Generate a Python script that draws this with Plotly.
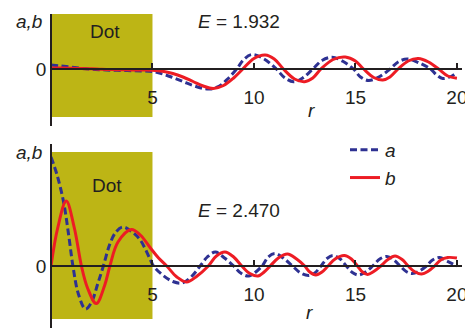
import plotly.graph_objects as go

# visible page is 473x336; the page body adds an 8px margin all round,
# so the figure is sized to fit inside it without scrollbars
W, H = 465, 320
OFF = 8

# upper panel, E = 1.932  (r, amplitude in arb. units)
r_top_a = [0, 0.5, 1, 1.5, 2, 2.5, 3, 3.5, 4, 4.5, 5, 5.5, 6, 6.5, 7, 7.5, 7.85, 8.3, 8.7, 9.15,
           9.5, 9.9, 10.5, 11.1, 11.5, 11.95, 12.4, 12.9, 13.35, 13.85, 14.4, 14.9, 15.25, 15.65,
           16.2, 16.7, 17.1, 17.55, 18.1, 18.7, 19.0, 19.3, 19.7, 20]
a_top = [4, 3, 1.8, 0.6, -0.3, -0.8, -1.2, -1.5, -1.7, -2, -2.5, -5, -8.5, -12.5, -16.5, -19.5, -20, -17, -10, 0,
         9.5, 14.5, 10, 0, -8.5, -12.7, -9, 0, 8.5, 11.7, 7.5, 0, -8, -11.5,
         -7.5, 0, 7, 10, 6.5, 0, -6, -9.5, -7.5, -3.5]
r_top_b = [0, 0.5, 1, 1.5, 2, 2.5, 3, 3.5, 4, 4.5, 5, 5.5, 6, 6.5, 7, 7.5, 8.0, 8.5, 9.0, 9.45,
           10.0, 10.55, 11.0, 11.45, 12.0, 12.5, 12.9, 13.3, 13.9, 14.5, 15.0, 15.4, 15.9, 16.35,
           16.7, 17.1, 17.6, 18.1, 18.6, 19.1, 19.55, 20]
b_top = [1.0, 1.0, 0.8, 0.5, 0.2, -0.3, -0.6, -0.8, -0.9, -1, -1.2, -2.2, -4.5, -8, -12.5, -17, -19.5, -16.5, -9, 0,
         10.5, 14, 10, 0, -10, -12.7, -9, 0, 9.5, 12, 8, 0, -8.5, -11,
         -8, 0, 8, 10.5, 7, 0, -7, -9.3]

# lower panel, E = 2.470
r_bot_a = [0, 0.3, 0.62, 0.87, 1.08, 1.35, 1.7, 2.0, 2.3, 2.58, 2.9, 3.2, 3.54, 4.0, 4.4, 4.9, 5.05,
           5.5, 6.0, 6.45, 6.9, 7.35, 7.7, 8.1, 8.55, 9.0, 9.35, 9.75, 10.4, 10.7, 11.05, 11.5, 11.9,
           12.3, 12.7, 13.0, 13.3, 13.6, 13.9, 14.25, 14.55, 14.85, 15.15, 15.5, 15.85, 16.2, 16.55,
           16.9, 17.2, 17.5, 17.8, 18.15, 18.5, 18.8, 19.15, 19.5, 20]
a_bot = [109, 91, 64, 31, 0, -28, -43, -36, -18, 0, 22, 34, 39, 34, 26, 6, 0,
         -9, -15.5, -17, -11, 0, 9, 14, 8, 0, -7, -10, 0, 9, 12.5, 7, 0,
         -7, -9.5, -7, 0, 7.5, 10.5, 7, 0, -6.5, -9, -6, 0, 7, 9.5,
         6, 0, -5.5, -7.5, -5, 0, 6, 8.5, 5, 0]
r_bot_b = [0, 0.33, 0.75, 1.15, 1.5, 1.8, 2.23, 2.65, 2.9, 3.3, 3.96, 4.4, 4.9, 5.3, 5.7,
           6.2, 6.68, 7.2, 7.75, 8.15, 8.57, 9.0, 9.4, 9.8, 10.2, 10.5, 10.8, 11.2, 11.65, 12.1,
           12.5, 12.75, 13.05, 13.35, 13.65, 14.0, 14.45, 14.8, 15.1, 15.35, 15.6, 15.9, 16.25,
           16.6, 16.95, 17.3, 17.6, 17.9, 18.25, 18.6, 18.9, 19.2, 19.55, 20]
b_bot = [0, 38, 65, 38, 0, -22, -37.6, -19, 0, 24, 36.5, 31, 18, 8, 0,
         -11, -16, -10, 0, 10, 14, 9, 0, -7.5, -10, -6, 0, 8, 12, 7,
         0, -6, -9, -6, 0, 7, 10.5, 7, 0, -6, -8.5, -5.5, 0,
         6.5, 10, 6.5, 0, -5.5, -8, -5, 0, 6, 8.5, 8]

energies = ['1.932', '2.470']
dot_r = [0, 5]
r_ticks = [5, 10, 15, 20]

BLUE = '#2e3192'
RED = '#ed1c24'
OLIVE = '#bdb515'
INK = '#231f20'
FONT = 'Liberation Sans, Arial, sans-serif'


def px(x):
    return (x - OFF) / W


def py(y):
    return min(1, max(0, 1 - (y - OFF) / H))


def add_panel(fig, xa, ya, ra, a, rb, b, legend):
    fig.add_trace(go.Scatter(x=ra, y=a, mode='lines', name='<i>a</i>', xaxis=xa, yaxis=ya,
                             line=dict(color=BLUE, width=3, dash='7px,3.5px', shape='spline'),
                             showlegend=legend))
    fig.add_trace(go.Scatter(x=rb, y=b, mode='lines', name='<i>b</i>', xaxis=xa, yaxis=ya,
                             line=dict(color=RED, width=3, shape='spline'),
                             showlegend=legend))


fig = go.Figure()
add_panel(fig, 'x', 'y', r_top_a, a_top, r_top_b, b_top, False)
add_panel(fig, 'x2', 'y2', r_bot_a, a_bot, r_bot_b, b_bot, True)

xcommon = dict(domain=[px(51), px(462)], range=[0, 20.25], anchor='free', automargin=False,
               showline=True, linecolor=INK, linewidth=1.5,
               ticks='inside', ticklen=5, tickwidth=1.5, tickcolor=INK,
               tickvals=r_ticks, ticklabelstandoff=11,
               showgrid=False, zeroline=False)
ycommon = dict(anchor='free', position=px(51), automargin=False,
               showline=True, linecolor=INK, linewidth=1.5,
               tickvals=[0], ticks='', showgrid=False, zeroline=False)

fig.update_layout(
    width=W, height=H,
    margin=dict(l=0, r=0, t=0, b=0, autoexpand=False),
    paper_bgcolor='white',
    plot_bgcolor='white',
    font=dict(family=FONT, size=19, color=INK),
    xaxis=dict(xcommon, position=py(69)),
    yaxis=dict(ycommon, domain=[py(126), py(14)], range=[-57, 55]),
    xaxis2=dict(xcommon, position=py(266)),
    yaxis2=dict(ycommon, domain=[py(328), py(144)], range=[-62, 122]),
    legend=dict(x=px(345), y=py(131), xanchor='left', yanchor='top',
                bgcolor='rgba(0,0,0,0)', font=dict(size=19)),
    shapes=[
        dict(type='rect', xref='x', yref='y', x0=dot_r[0], x1=dot_r[1], y0=-48, y1=55,
             fillcolor=OLIVE, line=dict(width=0), layer='below'),
        dict(type='rect', xref='x2', yref='y2', x0=dot_r[0], x1=dot_r[1], y0=-53, y1=114,
             fillcolor=OLIVE, line=dict(width=0), layer='below'),
    ],
)

texts = [
    ('<i>a,b</i>', 29, 152),
    ('Dot', 105, 32),
    ('Dot', 107, 185),
    ('<i>r</i>', 311, 110),
    ('<i>r</i>', 309, 312),
]
for t, x, y in texts:
    fig.add_annotation(text=t, x=px(x), y=py(y), xref='paper', yref='paper',
                       showarrow=False, xanchor='center', yanchor='middle')

# top label sits right at the page edge
fig.add_annotation(text='<i>a,b</i>', x=px(29), y=py(8.5), xref='paper', yref='paper',
                   showarrow=False, xanchor='center', yanchor='top')

for e, y in zip(energies, [22, 210]):
    fig.add_annotation(text=f'<i>E</i> = {e}', x=px(196), y=py(y), xref='paper', yref='paper',
                       showarrow=False, xanchor='left', yanchor='middle')

fig.write_html("out.html")
